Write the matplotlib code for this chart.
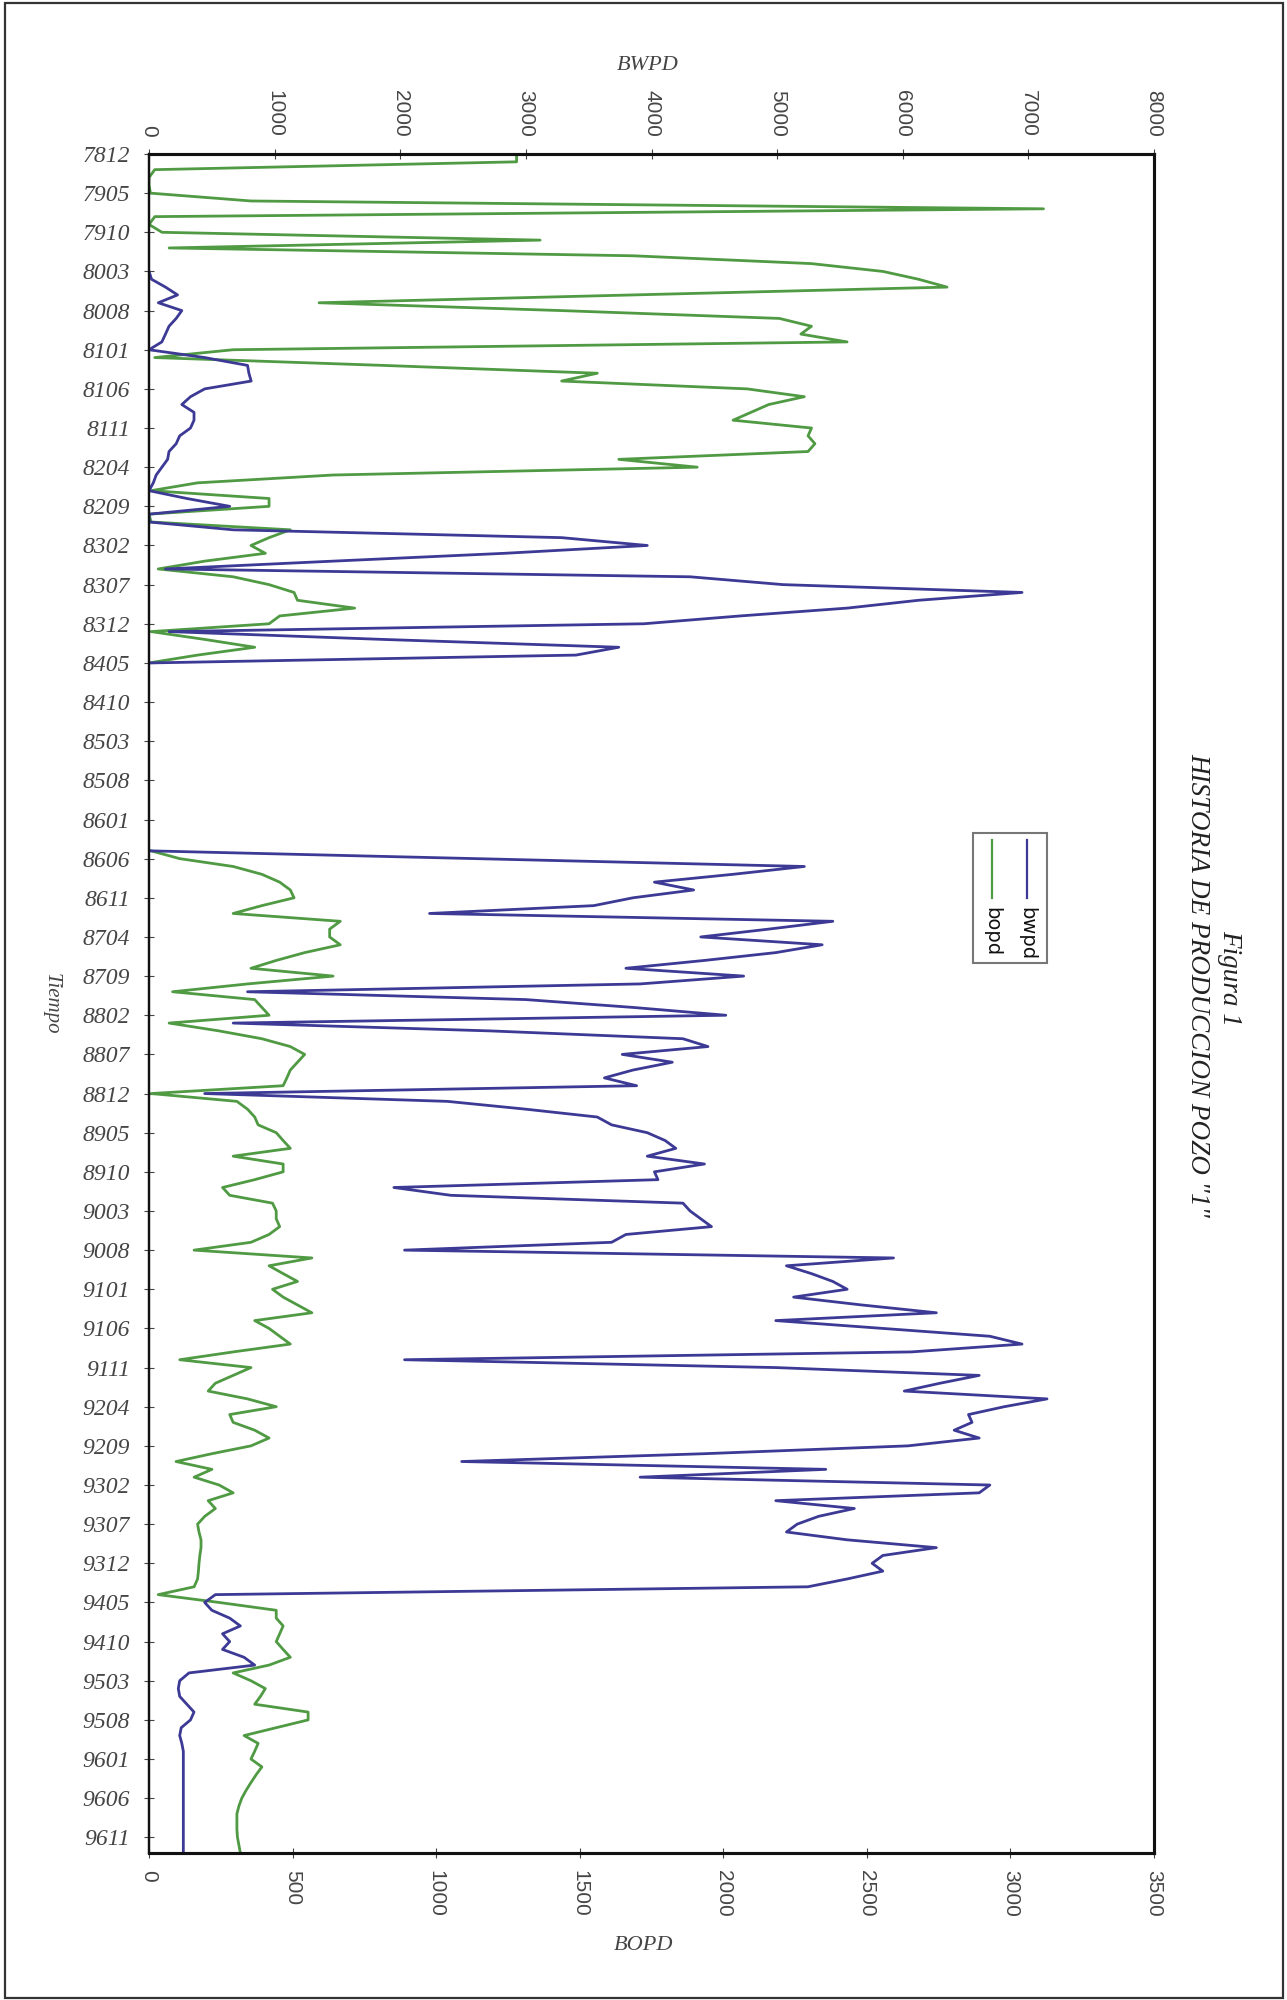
import numpy as np
import matplotlib
matplotlib.use("Agg")
import matplotlib.pyplot as plt
from matplotlib.patches import Rectangle
from matplotlib.lines import Line2D

# monthly data, month 0 = 7812 ; gap 8406-8604 has no data
nan = np.nan

bopd = ([1280, 1280, 20, 0, 0, 5, 355, 3115, 20, 0,
         45, 1362, 70, 1686, 2307, 2556, 2680, 2779, 1686, 592,
         1437, 2195, 2307, 2270, 2431, 293, 20, 815, 1561, 1437,
         2083, 2282, 2158, 2096, 2034, 2307, 2295, 2319, 2295, 1636,
         1909, 641, 169, 7, 418, 418, 0, 7, 492, 418,
         355, 405, 194, 32, 293, 418, 505, 517, 716, 455,
         418, 7, 194, 368, 169, 0]
        + [nan] * 23 +
        [7,
         107, 293, 393, 455, 492, 505, 393, 293, 666, 629,
         629, 666, 542, 443, 355, 641, 343, 82, 368, 393,
         418, 70, 244, 393, 492, 542, 517, 492, 480, 467,
         7, 306, 343, 368, 380, 443, 467, 492, 293, 467,
         467, 368, 256, 281, 430, 443, 443, 455, 418, 355,
         157, 567, 418, 467, 517, 430, 467, 517, 567, 368,
         418, 455, 492, 293, 107, 355, 293, 231, 206, 343,
         443, 281, 293, 368, 418, 355, 219, 94, 219, 157,
         244, 293, 206, 231, 194, 169, 174, 181, 181, 177,
         174, 172, 169, 157, 32, 244, 443, 443, 467, 455,
         443, 467, 492, 418, 293, 355, 405, 388, 368, 554,
         554, 443, 331, 380, 368, 355, 393, 373, 355, 338,
         323, 313, 306, 306, 306, 308, 313, 318])

bwpd = ([nan] * 15 +
        [0, 20, 131, 227, 74,
         261, 216, 159, 131, 102, 0, 443, 784, 795, 813,
         443, 330, 261, 358, 358, 330, 244, 216, 159, 148,
         102, 57, 34, 0, 301, 642, 0, 0, 670, 3284,
         3966, 2830, 1466, 131, 4307, 5046, 6949, 6125, 5557, 4705,
         3938, 159, 1864, 3739, 3398, 17]
        + [nan] * 23 +
        [0,
         2602, 5216, 4648, 4023, 4335, 3852, 3540, 2233, 5443, 4932,
         4392, 5358, 4989, 4421, 3796, 4733, 3909, 784, 3000, 3852,
         4591, 670, 2716, 4250, 4449, 3767, 4165, 3852, 3625, 3881,
         443, 2375, 3000, 3568, 3682, 3966, 4108, 4193, 3966, 4421,
         4023, 4051, 1949, 2403, 4250, 4307, 4392, 4477, 3796, 3682,
         2034, 5926, 5074, 5273, 5443, 5557, 5131, 5671, 6267, 4989,
         5841, 6693, 6949, 6068, 2034, 4989, 6608, 6296, 6012, 7148,
         6807, 6523, 6551, 6409, 6608, 6040, 4421, 2489, 5387, 3909,
         6693, 6608, 4989, 5614, 5330, 5159, 5074, 5557, 6267, 5841,
         5756, 5841, 5557, 5244, 528, 443, 500, 642, 727, 585,
         642, 585, 756, 841, 318, 244, 233, 244, 301, 358,
         330, 256, 244, 261, 273, 273, 273, 273, 273, 273,
         273, 273, 273, 273, 273, 273, 273, 273])

time_labels = ['7812', '7905', '7910', '8003', '8008', '8101', '8106', '8111',
               '8204', '8209', '8302', '8307', '8312', '8405', '8410', '8503',
               '8508', '8601', '8606', '8611', '8704', '8709', '8802', '8807',
               '8812', '8905', '8910', '9003', '9008', '9101', '9106', '9111',
               '9204', '9209', '9302', '9307', '9312', '9405', '9410', '9503',
               '9508', '9601', '9606', '9611']

bwpd_ticks = [0, 1000, 2000, 3000, 4000, 5000, 6000, 7000, 8000]
bopd_ticks = [0, 500, 1000, 1500, 2000, 2500, 3000, 3500]

months = np.arange(len(bopd))
blue = '#3c3a94'
green = '#509a44'
grey = '#454545'

fig = plt.figure(figsize=(12.87, 20), dpi=100)
ax = fig.add_axes([0.1158, 0.0735, 0.7809, 0.8495])
axt = ax.twiny()

ax.plot(bopd, months, color=green, lw=2.0)
axt.plot(bwpd, months, color=blue, lw=2.0)

ax.set_ylim(217, 0)
ax.set_xlim(0, 3500)
axt.set_xlim(0, 8000)

ax.set_yticks(np.arange(0, 5 * len(time_labels), 5))
ax.set_yticklabels(time_labels, family='Liberation Serif', style='italic',
                   fontsize=17, color=grey)
ax.tick_params(axis='y', direction='inout', length=7, pad=10, color=grey)

ax.set_xticks(bopd_ticks)
ax.set_xticklabels([str(t) for t in bopd_ticks], rotation=-90,
                   family='Liberation Sans', fontsize=15, color=grey)
ax.tick_params(axis='x', direction='inout', length=7, pad=9, color=grey)

axt.set_xticks(bwpd_ticks)
axt.set_xticklabels([str(t) for t in bwpd_ticks], rotation=-90,
                    family='Liberation Sans', fontsize=15, color=grey)
axt.tick_params(axis='x', direction='inout', length=7, pad=9, color=grey)

for a in (ax, axt):
    for s in a.spines.values():
        s.set_linewidth(2.2)
        s.set_color('#111111')
    a.spines['left'].set_linewidth(1.6)

# axis titles
fig.text(0.503, 0.967, 'BWPD', family='Liberation Serif', style='italic',
         fontsize=16, color=grey, ha='center', va='center')
fig.text(0.500, 0.0275, 'BOPD', family='Liberation Serif', style='italic',
         fontsize=16, color=grey, ha='center', va='center')
fig.text(0.0396, 0.498, 'Tiempo', family='Liberation Serif', style='italic',
         fontsize=15, color=grey, rotation=-90, ha='center', va='center')

# title (rotated like the rest of the page)
fig.text(0.9557, 0.511, 'Figura 1', family='Liberation Serif', style='italic',
         fontsize=19.5, color='#222222', rotation=-90, ha='center', va='center')
fig.text(0.9309, 0.5075, 'HISTORIA DE PRODUCCION POZO "1"', family='Liberation Serif',
         style='italic', fontsize=19.5, color='#222222', rotation=-90,
         ha='center', va='center')

# legend box, drawn rotated
ax.add_patch(Rectangle((0.820, 0.5238), 0.0735, 0.0765, transform=ax.transAxes,
                       fill=False, ec='#777777', lw=1.5, zorder=5))
ax.add_line(Line2D([0.8736, 0.8736], [0.596, 0.562], transform=ax.transAxes,
                   color=blue, lw=1.6, zorder=5))
ax.add_line(Line2D([0.8388, 0.8388], [0.596, 0.562], transform=ax.transAxes,
                   color=green, lw=1.6, zorder=5))
ax.text(0.8736, 0.557, 'bwpd', transform=ax.transAxes, rotation=-90,
        ha='center', va='top', fontsize=14, family='DejaVu Sans', color='#111111')
ax.text(0.8388, 0.557, 'bopd', transform=ax.transAxes, rotation=-90,
        ha='center', va='top', fontsize=14, family='DejaVu Sans', color='#111111')

# page frame of the scanned sheet
fig.add_artist(Rectangle((0.004, 0.001), 0.993, 0.9975, transform=fig.transFigure,
                         fill=False, ec='#333333', lw=1.6))

fig.savefig('out.png', dpi=100)
